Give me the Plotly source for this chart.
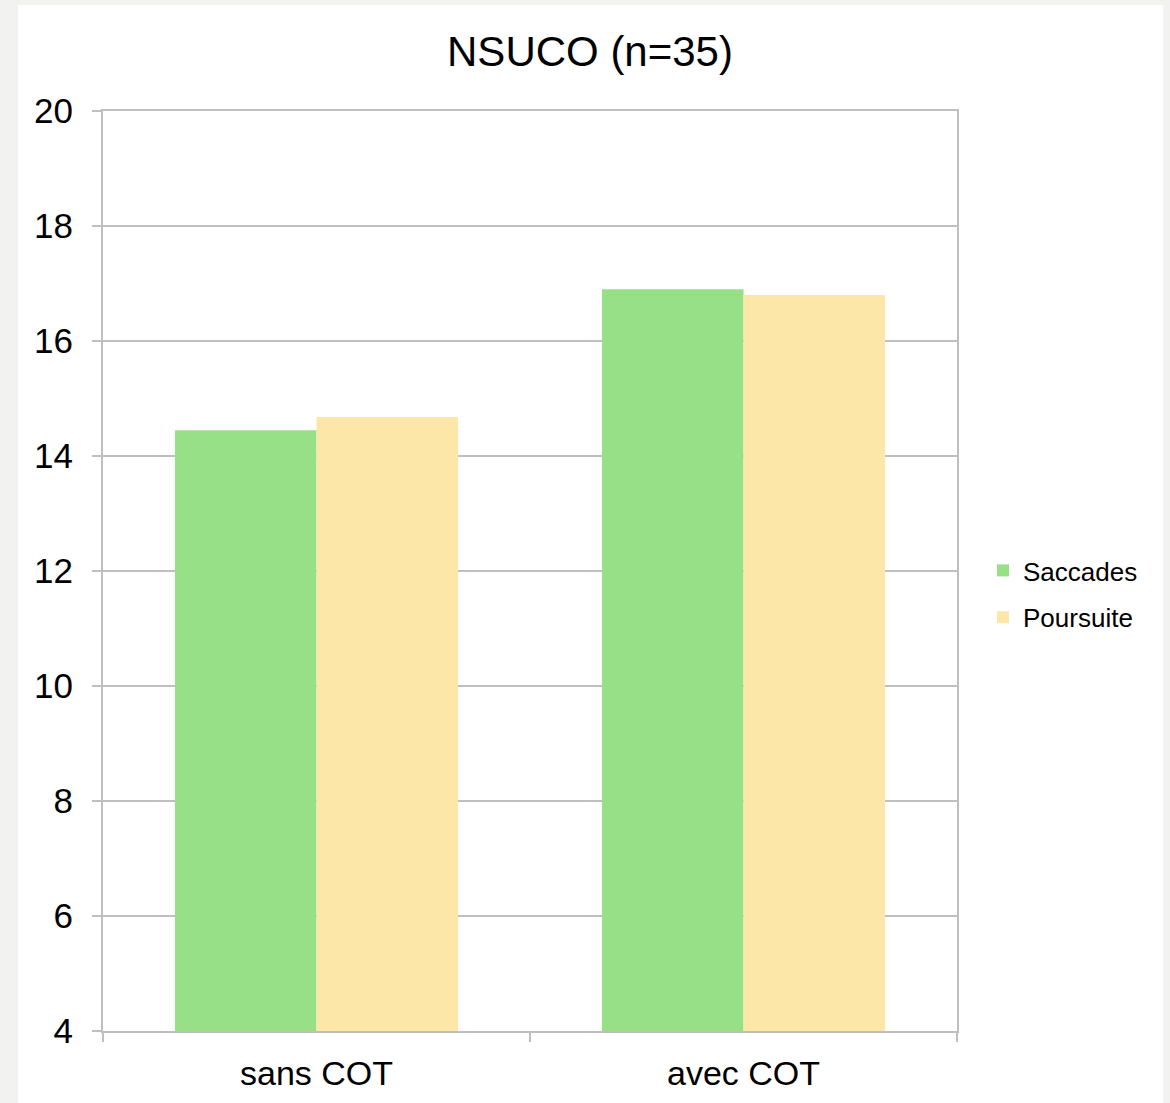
import plotly.graph_objects as go

categories = ["sans COT", "avec COT"]
saccades = [14.45, 16.9]
poursuite = [14.68, 16.8]
y_ticks = [4, 6, 8, 10, 12, 14, 16, 18, 20]

GREEN = "rgb(151,224,135)"
YELLOW = "rgb(252,231,169)"
GRID = "rgb(191,191,191)"
FONT = "Liberation Sans, Arial, sans-serif"

fig = go.Figure()
fig.add_trace(go.Bar(x=categories, y=saccades, name="Saccades", marker_color=GREEN,
                     marker_line_width=0, legendgroup="a"))
fig.add_trace(go.Bar(x=categories, y=poursuite, name="Poursuite", marker_color=YELLOW,
                     marker_line_width=0, legendgroup="b"))

L, R, T, B = 103, 213, 111, 72
W, H = 1170, 1103
pw, ph = W - L - R, H - T - B

def px_x(v):
    return (v - L) / pw

def px_y(v):
    return (H - B - v) / ph

fig.add_shape(type="rect", xref="paper", yref="paper",
              x0=px_x(18), x1=px_x(1163), y0=px_y(1110), y1=px_y(5),
              fillcolor="white", line_width=0, layer="below")

fig.update_layout(
    width=W, height=H,
    margin=dict(l=L, r=R, t=T, b=B, pad=0),
    paper_bgcolor="rgb(242,242,240)",
    plot_bgcolor="white",
    barmode="group",
    bargap=0.337,
    bargroupgap=0,
    font=dict(family=FONT, color="black", size=35),
    title=dict(text="NSUCO (n=35)", font=dict(size=42, color="black", family=FONT),
               x=590 / W, xanchor="center", xref="container",
               y=1 - 51 / H, yanchor="middle", yref="container"),
    legend=dict(x=px_x(983), xanchor="left", y=px_y(594), yanchor="middle",
                font=dict(size=26, color="black", family=FONT),
                tracegroupgap=10, bgcolor="rgba(0,0,0,0)", itemwidth=30),
    xaxis=dict(showline=True, linecolor=GRID, linewidth=2, mirror=True,
               ticks="outside", tickson="boundaries", ticklen=9, tickcolor=GRID, tickwidth=2,
               showgrid=False, tickfont=dict(size=34), ticklabelstandoff=11),
    yaxis=dict(range=[4, 20], tickvals=y_ticks, showline=True, linecolor=GRID, linewidth=2,
               mirror=True, ticks="outside", ticklen=9, tickcolor=GRID, tickwidth=2,
               showgrid=True, gridcolor=GRID, gridwidth=2, zeroline=False,
               tickfont=dict(size=35), ticklabelstandoff=12),
)

fig.write_html(
    "out.html",
    config={"displayModeBar": False},
    post_script="document.body.style.margin='0';document.body.style.background='rgb(242,242,240)';",
)
